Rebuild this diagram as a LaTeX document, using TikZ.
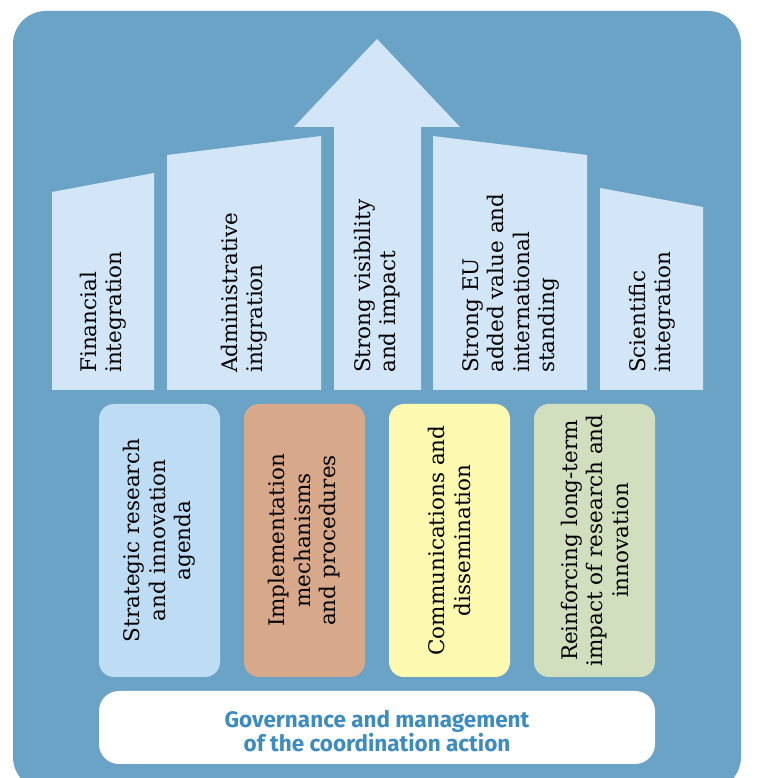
\documentclass[tikz,border=0pt]{standalone}
\usepackage{fontspec}
\setmainfont{DejaVu Serif}
\newfontfamily\govfont{Fira Sans}
\definecolor{bgblue}{HTML}{6AA3C6}
\definecolor{pale}{HTML}{D2E6F8}
\definecolor{cStrat}{HTML}{BEDCF4}
\definecolor{cImpl}{HTML}{D8A88A}
\definecolor{cComm}{HTML}{FDF9B0}
\definecolor{cReinf}{HTML}{D2DFBF}
\definecolor{govtext}{HTML}{3D8BBF}
\tikzset{
  toptext/.style={rotate=90, anchor=west, align=left, inner sep=0pt, font=\fontsize{21.5}{25.5}\selectfont, text=black},
  boxtext/.style={rotate=90, align=center, inner sep=0pt, font=\fontsize{21.5}{25.5}\selectfont, text=black},
  pillar/.style={fill=pale},
  pillarbox/.style={rounded corners=15pt, minimum width=121pt, minimum height=273pt, inner sep=0pt},
}
\begin{document}
\begin{tikzpicture}[x=1pt,y=1pt]
\useasboundingbox (0,0) rectangle (756,778);
\fill[bgblue, rounded corners=33pt] (13,-12) rectangle (741,767);
% pillars
\fill[pillar] (52,388) -- (52,586) -- (154,605) -- (154,388) -- cycle;
\fill[pillar] (167,388) -- (167,623) -- (321,642) -- (321,388) -- cycle;
\fill[pillar] (334,388) -- (334,651) -- (294,651) -- (377,739) -- (460,651) -- (421,651) -- (421,388) -- cycle;
\fill[pillar] (433,388) -- (433,642) -- (587,623) -- (587,388) -- cycle;
\fill[pillar] (600,388) -- (600,590) -- (703,571) -- (703,388) -- cycle;
\node[toptext] (fin) at (103,405) {Financial\\integration};
\node[toptext] (adm) at (244,405) {Administrative\\intgration};
\node[toptext] (vis) at (377,405) {Strong visibility\\and impact};
\node[toptext] (eu) at (511,405) {Strong EU\\added value and\\international\\standing};
\node[toptext] (sci) at (652,405) {Scientific\\integration};
% boxes
\node[pillarbox, fill=cStrat] (strat) at (159.5,237.5) {};
\node[pillarbox, fill=cImpl] (impl) at (304.5,237.5) {};
\node[pillarbox, fill=cComm] (comm) at (449.5,237.5) {};
\node[pillarbox, fill=cReinf] (reinf) at (594.5,237.5) {};
\node[boxtext] (stratT) at (strat.center) {Strategic research\\and innovation\\agenda};
\node[boxtext] (implT) at (impl.center) {Implementation\\mechanisms\\and procedures};
\node[boxtext] (commT) at (comm.center) {Communications and\\dissemination};
\node[boxtext] (reinfT) at (reinf.center) {Reinforcing long-term\\impact of research and\\innovation};
% governance
\node[fill=white, rounded corners=20pt, minimum width=556pt, minimum height=73pt, inner sep=0pt] (gov) at (377,50.5) {};
\node[align=center, inner sep=0pt, text=govtext, font=\govfont\bfseries\fontsize{22.5}{24}\selectfont] (govT) at (377,47) {Governance and management\\of the coordination action};
\end{tikzpicture}
\end{document}
